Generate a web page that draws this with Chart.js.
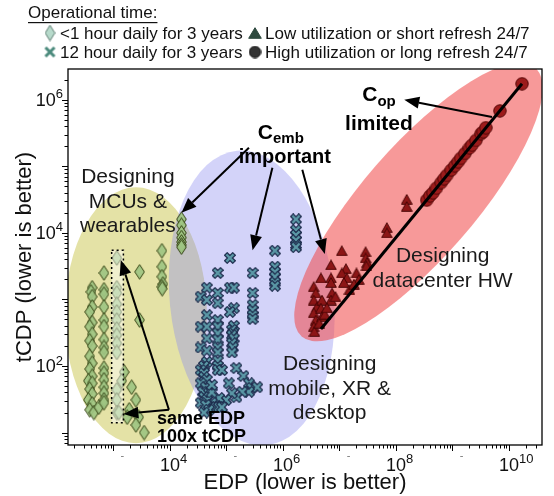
<!DOCTYPE html>
<html>
<head>
<meta charset="utf-8">
<script src="https://cdn.jsdelivr.net/npm/chart.js@4.4.1/dist/chart.umd.min.js"></script>
<style>
  html, body { margin: 0; padding: 0; background: #fff; }
  #c { display: block; }
</style>
</head>
<body>
<canvas id="c" width="554" height="496"></canvas>
<script>
// values (log-log axes)
const xTickExponents = [4, 6, 8, 10];
const yTickExponents = [2, 4, 6];

const legendLabels = [
    '<1 hour daily for 3 years',
    '12 hour daily for 3 years',
    'Low utilization or short refresh 24/7',
    'High utilization or long refresh 24/7'
];

// <1 hour daily for 3 years (diamonds)
const shortUse = [
    [1.6e4, 1.6e4], [1.6e4, 1.3e4], [1.6e4, 1.0e4], [1.6e4, 8.5e3], [1.6e4, 7.3e3], [1.6e4, 6.6e3], [1.6e4, 6.1e3],
    [7.2e3, 5.4e3], [7.2e3, 3.1e3], [7.2e3, 2.2e3], [7.5e3, 1.7e3], [7.2e3, 1.55e3], [7.3e3, 1.45e3],
    [2.9e3, 2.6e3], [2.9e3, 4.9e2],
    [1.15e3, 4.2e3], [1.15e3, 1.5e3], [1.15e3, 1.25e3], [1.15e3, 8.5e2], [1.15e3, 6.5e2], [1.15e3, 4.9e2],
    [1.15e3, 3.6e2], [1.15e3, 2.9e2], [1.15e3, 2.2e2], [1.15e3, 1.6e2], [1.15e3, 44], [1.15e3, 31], [1.15e3, 20],
    [680, 2.5e3], [680, 1.4e3], [680, 1.2e3], [680, 7.7e2], [680, 4.9e2], [680, 3.9e2], [680, 2.5e2], [680, 1.9e2],
    [680, 1.6e2], [680, 93], [680, 78], [680, 62], [680, 48], [680, 39], [680, 31],
    [420, 1.5e3], [400, 1.3e3], [420, 1.1e3], [420, 7.7e2], [380, 6.5e2], [420, 4.5e2], [380, 3.9e2], [420, 3.0e2],
    [380, 2.4e2], [420, 2.0e2], [380, 1.4e2], [420, 1.1e2], [380, 90], [420, 70], [360, 60], [420, 55], [380, 45],
    [420, 38], [360, 31], [420, 27], [380, 22],
    [1.55e3, 81], [2.1e3, 48], [2.5e3, 31], [1.9e3, 22], [2.8e3, 17], [3.5e3, 10], [2.5e3, 13], [1.75e3, 17],
    [1.25e3, 20], [450, 20], [550, 24], [680, 28], [1.4e3, 60]
];

// 12 hour daily for 3 years (crosses)
const halfDayUse = [
    [1.7e6, 1.6e4], [1.7e6, 1.1e4], [1.7e6, 9.3e3], [1.7e6, 7.8e3], [1.7e6, 6.6e3], [1.7e6, 6.1e3],
    [7.2e5, 5.4e3], [7.2e5, 3.1e3], [7.2e5, 2.6e3], [7.2e5, 2.2e3], [7.2e5, 1.8e3], [7.2e5, 1.6e3],
    [2.9e5, 2.5e3], [2.9e5, 1.25e3], [2.9e5, 8.3e2], [2.9e5, 6.9e2], [2.9e5, 5.8e2], [2.9e5, 5.1e2],
    [1.15e5, 4.2e3], [7.0e4, 2.5e3], [1.15e5, 1.5e3], [1.35e5, 1.5e3],
    [1.35e5, 7.4e2], [1.15e5, 6.5e2], [1.35e5, 4.0e2],
    [1.25e5, 3.5e2], [1.3e5, 3.1e2], [1.25e5, 2.9e2], [1.35e5, 2.6e2], [1.25e5, 2.2e2], [1.3e5, 1.9e2], [1.25e5, 1.6e2],
    [7.0e4, 1.25e3], [7.0e4, 8.8e2],
    [7.0e4, 4.9e2], [7.0e4, 3.9e2], [7.0e4, 3.1e2], [7.0e4, 2.5e2], [7.0e4, 1.9e2], [7.0e4, 1.6e2], [7.0e4, 1.2e2],
    [7.0e4, 1.0e2], [7.0e4, 87],
    [4.5e4, 1.5e3], [3.5e4, 1.1e3], [4.5e4, 9.8e2], [4.5e4, 5.8e2], [3.5e4, 3.9e2], [4.5e4, 3.9e2], [4.5e4, 2.6e2],
    [3.5e4, 1.9e2], [4.5e4, 1.7e2], [4.5e4, 1.15e2], [4.0e4, 1.0e2], [3.5e4, 87], [4.0e4, 78],
    [8.3e4, 87], [1.1e5, 55], [1.5e5, 93], [2.0e5, 71], [2.5e5, 55], [2.8e5, 47], [3.5e5, 48], [2.5e5, 41],
    [1.9e5, 41], [1.5e5, 34], [1.25e5, 39], [9.8e4, 31], [7.4e4, 33], [5.5e4, 28], [4.5e4, 24], [6.5e4, 24],
    [7.4e4, 24], [8.3e4, 24],
    [4.0e4, 68], [4.5e4, 62], [3.5e4, 55], [4.3e4, 48], [3.8e4, 41], [4.9e4, 39], [4.0e4, 34], [4.5e4, 31],
    [3.5e4, 28], [4.3e4, 26], [4.9e4, 22], [4.0e4, 20], [5.5e4, 40], [5.5e4, 52]
];

// low utilization or short refresh 24/7 (triangles)
const lowUtil = [
    [1.55e8, 3.2e4], [1.55e8, 2.5e4],
    [6.9e7, 1.2e4], [6.9e7, 1.0e4],
    [2.9e7, 5.2e3], [2.9e7, 4.2e3], [3.1e7, 3.6e3], [3.0e7, 3.2e3],
    [1.1e7, 5.4e3], [7.1e6, 3.3e3], [4.7e6, 2.1e3],
    [1.3e7, 2.9e3], [1.1e7, 2.5e3], [1.35e7, 2.1e3], [1.2e7, 1.8e3], [1.5e7, 1.4e3],
    [2.0e7, 2.5e3], [2.2e7, 2.0e3], [1.8e7, 1.7e3],
    [7.1e6, 2.1e3], [7.1e6, 1.8e3], [7.4e6, 1.25e3], [7.1e6, 9.8e2], [8.5e6, 1.1e3],
    [3.5e6, 1.55e3], [3.8e6, 1.25e3], [3.5e6, 9.8e2], [4.0e6, 7.7e2], [3.5e6, 6.3e2], [3.8e6, 4.9e2],
    [3.5e6, 3.9e2], [3.6e6, 3.3e2],
    [4.9e6, 9.8e2], [4.7e6, 7.4e2], [4.9e6, 5.5e2], [4.4e6, 4.4e2], [5.5e6, 6.0e2], [6.0e6, 7.5e2]
];

// high utilization or long refresh 24/7 (circles)
const highUtil = [
    [3.5e8, 3.1e4], [4.0e8, 3.6e4], [4.5e8, 4.0e4], [5.2e8, 4.7e4], [6.3e8, 5.7e4], [7.1e8, 6.5e4],
    [7.9e8, 7.3e4], [9.5e8, 8.8e4], [1.1e9, 1.02e5], [1.26e9, 1.17e5], [1.4e9, 1.32e5], [1.66e9, 1.56e5],
    [2.0e9, 1.89e5], [2.2e9, 2.08e5], [2.6e9, 2.45e5], [3.2e9, 3.1e5], [3.5e9, 3.3e5], [3.9e9, 3.8e5],
    [6.9e9, 6.8e5], [1.7e10, 1.74e6]
];

const datacenterFit = [[4.7e6, 3.6e2], [1.7e10, 1.74e6]];

// annotation layer (data coordinates)
const regions = [
    { at: [2.5e3, 5.8e2], rx: 71, ry: 128, rot: 0, color: 'rgb(228,226,166)' },
    { at: [2.8e5, 1.05e3], rx: 82, ry: 148, rot: -0.1, color: 'rgba(140,140,240,0.38)' },
    { at: [2.5e8, 2.9e4], rx: 178, ry: 56, rot: -0.855, color: 'rgba(240,70,70,0.55)' }
];
const sameEdpBox = { x: [930, 1500], y: [14, 5.5e3] };
const arrows = [
    { from: [2.5e5, 1.9e5], to: [1.6e4, 2.0e4] },
    { from: [6.5e5, 9.5e4], to: [2.9e5, 5.5e3] },
    { from: [2.2e6, 8.9e4], to: [5.5e6, 4.8e3] },
    { from: [5.0e9, 5.5e5], to: [1.4e8, 1.0e6] },
    { from: [9.6e3, 22], to: [1.35e3, 3.9e3] },
    { from: [9.6e3, 22], to: [1.5e3, 19] }
];

const FONT = '"Liberation Sans", Arial, Helvetica, sans-serif';
const toPts = arr => arr.map(([x, y]) => ({ x, y }));

function marker(w, h, paint) {
    const c = document.createElement('canvas');
    c.width = w;
    c.height = h;
    paint(c.getContext('2d'));
    return c;
}

function diamond(fill, stroke, w, h) {
    return marker(w, h, g => {
        g.beginPath();
        g.moveTo(w / 2, 0.7); g.lineTo(w - 0.7, h / 2); g.lineTo(w / 2, h - 0.7); g.lineTo(0.7, h / 2);
        g.closePath();
        g.fillStyle = fill; g.fill();
        g.strokeStyle = stroke; g.lineWidth = 1; g.stroke();
    });
}

function cross(fill, stroke, size) {
    return marker(size, size, g => {
        const p = size * 0.27, q = size - p;
        g.lineCap = 'square';
        g.beginPath();
        g.moveTo(p, p); g.lineTo(q, q); g.moveTo(q, p); g.lineTo(p, q);
        if (stroke) { g.strokeStyle = stroke; g.lineWidth = size * 0.4; g.stroke(); }
        g.strokeStyle = fill; g.lineWidth = size * 0.2; g.stroke();
    });
}

function triangle(fill, stroke, w, h) {
    return marker(w, h, g => {
        g.beginPath();
        g.moveTo(w / 2, 0.7); g.lineTo(w - 0.7, h - 0.7); g.lineTo(0.7, h - 0.7);
        g.closePath();
        g.fillStyle = fill; g.fill();
        g.strokeStyle = stroke; g.lineWidth = 1; g.stroke();
    });
}

function circle(fill, stroke, d) {
    return marker(d, d, g => {
        g.beginPath();
        g.arc(d / 2, d / 2, d / 2 - 0.8, 0, Math.PI * 2);
        g.fillStyle = fill; g.fill();
        g.strokeStyle = stroke; g.lineWidth = 1; g.stroke();
    });
}

const diamondImg = diamond('rgba(158,196,130,0.92)', '#364515', 11, 16);
const crossImg = cross('#5b98a6', '#1e2d4e', 12);
const triangleImg = triangle('#8c1616', '#4a0606', 12, 11);
const circleImg = circle('#9b1b1b', '#540808', 14);

const legendMarks = [
    diamond('#b7dacb', '#5d7d72', 11, 17),
    cross('#4b8a7c', null, 15),
    triangle('#2e4a3f', '#2e4a3f', 14, 12),
    circle('#333', '#111', 13)
];

function decadeTicks(scale) {
    const out = [];
    const lo = Math.floor(Math.log10(scale.min)), hi = Math.ceil(Math.log10(scale.max));
    for (let e = lo; e <= hi; e++) {
        for (let m = 1; m <= 9; m++) {
            const v = m * Math.pow(10, e);
            if (v >= scale.min && v <= scale.max) out.push({ v, major: m === 1, e });
        }
    }
    return out;
}

function drawRuns(g, cx, cy, runs) {
    let w = 0;
    runs.forEach(r => { g.font = r[1]; w += g.measureText(r[0]).width; });
    let xx = cx - w / 2;
    runs.forEach(r => {
        g.font = r[1];
        g.fillText(r[0], xx, cy + (r[2] || 0));
        xx += g.measureText(r[0]).width;
    });
}

function arrow(g, x1, y1, x2, y2) {
    const ang = Math.atan2(y2 - y1, x2 - x1), len = 15, half = 6;
    const bx = x2 - len * Math.cos(ang), by = y2 - len * Math.sin(ang);
    g.beginPath();
    g.moveTo(x1, y1); g.lineTo(bx, by);
    g.stroke();
    g.beginPath();
    g.moveTo(x2, y2);
    g.lineTo(bx + half * Math.sin(ang), by - half * Math.cos(ang));
    g.lineTo(bx - half * Math.sin(ang), by + half * Math.cos(ang));
    g.closePath();
    g.fill();
}

const ellipses = {
    id: 'ellipses',
    beforeDatasetsDraw(chart) {
        const { ctx, chartArea: a, scales: { x, y } } = chart;
        ctx.save();
        ctx.beginPath();
        ctx.rect(a.left, a.top, a.right - a.left, a.bottom - a.top);
        ctx.clip();
        regions.forEach(r => {
            ctx.beginPath();
            ctx.ellipse(x.getPixelForValue(r.at[0]), y.getPixelForValue(r.at[1]), r.rx, r.ry, r.rot, 0, Math.PI * 2);
            ctx.fillStyle = r.color;
            ctx.fill();
        });
        ctx.restore();
    }
};

const overlays = {
    id: 'overlays',
    afterDatasetsDraw(chart) {
        const { ctx, scales: { x, y } } = chart;
        const px = v => x.getPixelForValue(v), py = v => y.getPixelForValue(v);
        ctx.save();

        // dotted "same EDP" box
        const bx = px(sameEdpBox.x[0]), bw = px(sameEdpBox.x[1]) - bx;
        const by = py(sameEdpBox.y[1]), bh = py(sameEdpBox.y[0]) - by;
        ctx.fillStyle = 'rgba(255,255,255,0.45)';
        ctx.fillRect(bx, by, bw, bh);
        ctx.setLineDash([2, 3]);
        ctx.strokeStyle = '#000';
        ctx.lineWidth = 1.5;
        ctx.strokeRect(bx, by, bw, bh);
        ctx.setLineDash([]);

        ctx.lineWidth = 2;
        ctx.fillStyle = '#000';
        arrows.forEach(ar => arrow(ctx, px(ar.from[0]), py(ar.from[1]), px(ar.to[0]), py(ar.to[1])));

        ctx.textBaseline = 'middle';
        ctx.textAlign = 'center';
        ctx.fillStyle = '#1a1a1a';
        ctx.font = '21px ' + FONT;
        const block = (lines, cx, cy, gap) => lines.forEach((t, i) =>
            ctx.fillText(t, cx, cy + (i - (lines.length - 1) / 2) * gap));
        block(['Designing', 'MCUs &', 'wearables'], px(1.8e3), py(2.9e4), 24.5);
        block(['Designing', 'mobile, XR &', 'desktop'], px(6.7e6), py(45), 24.5);
        block(['Designing', 'datacenter HW'], px(6.7e8), py(2.9e3), 25);

        ctx.textAlign = 'left';
        ctx.fillStyle = '#000';
        const bold = s => 'bold ' + s + 'px ' + FONT;
        let cx = px(1.08e6), cy = py(2.1e5);
        drawRuns(ctx, cx - 4, cy - 12, [['C', bold(21)], ['emb', bold(15), 6]]);
        drawRuns(ctx, cx, cy + 13, [['important', bold(20)]]);
        cx = px(5.0e7); cy = py(7.6e5);
        drawRuns(ctx, cx, cy - 13, [['C', bold(21)], ['op', bold(15), 7]]);
        drawRuns(ctx, cx, cy + 16, [['limited', bold(21)]]);

        ctx.font = bold(18);
        ctx.fillText('same EDP', px(5.9e3), py(11.7) - 9);
        ctx.fillText('100x tCDP', px(5.9e3), py(11.7) + 9);
        ctx.restore();
    }
};

const frame = {
    id: 'frame',
    afterDraw(chart) {
        const { ctx, chartArea: a, scales: { x, y } } = chart;
        ctx.save();
        ctx.strokeStyle = '#000';
        ctx.lineWidth = 1.3;
        ctx.strokeRect(a.left, a.top, a.right - a.left, a.bottom - a.top);

        ctx.lineWidth = 1;
        ctx.beginPath();
        decadeTicks(x).forEach(t => {
            const p = Math.round(x.getPixelForValue(t.v)) + 0.5;
            ctx.moveTo(p, a.bottom); ctx.lineTo(p, a.bottom + (t.major ? 6 : 3.5));
        });
        decadeTicks(y).forEach(t => {
            const p = Math.round(y.getPixelForValue(t.v)) + 0.5;
            ctx.moveTo(a.left, p); ctx.lineTo(a.left - (t.major ? 6 : 3.5), p);
        });
        ctx.stroke();

        // tick labels 10^n
        ctx.fillStyle = '#111';
        ctx.textBaseline = 'middle';
        const base = '18px ' + FONT, sup = '13px ' + FONT;
        xTickExponents.forEach(e => {
            const p = x.getPixelForValue(Math.pow(10, e));
            ctx.font = base;
            ctx.textAlign = 'center';
            ctx.fillText('10', p, a.bottom + 21);
            const w = ctx.measureText('10').width;
            ctx.font = sup;
            ctx.textAlign = 'left';
            ctx.fillText(String(e), p + w / 2, a.bottom + 14);
        });
        // faint marks at the odd decades
        ctx.font = '11px ' + FONT;
        ctx.fillStyle = '#777';
        ctx.textAlign = 'center';
        decadeTicks(x).filter(t => t.major && t.e % 2 === 1).forEach(t => {
            ctx.fillText('-', x.getPixelForValue(t.v) + 9, a.bottom + 11);
        });
        ctx.fillStyle = '#111';
        yTickExponents.forEach(e => {
            const p = y.getPixelForValue(Math.pow(10, e));
            ctx.font = sup;
            ctx.textAlign = 'right';
            ctx.fillText(String(e), a.left - 5, p - 5);
            const sw = ctx.measureText(String(e)).width;
            ctx.font = base;
            ctx.fillText('10', a.left - 5 - sw, p + 1);
        });

        // axis titles
        ctx.font = '22px ' + FONT;
        ctx.textAlign = 'center';
        ctx.fillText('EDP (lower is better)', (a.left + a.right) / 2, 483);
        ctx.save();
        ctx.translate(25, (a.top + a.bottom) / 2);
        ctx.rotate(-Math.PI / 2);
        ctx.fillText('tCDP (lower is better)', 0, 0);
        ctx.restore();

        // legend
        ctx.font = '17px ' + FONT;
        ctx.textAlign = 'left';
        ctx.fillText('Operational time:', 28, 13);
        const tw = ctx.measureText('Operational time:').width;
        ctx.fillRect(28, 22, tw, 1.2);
        const slots = [[50, 33], [50, 52], [255, 33], [255, 52]];
        legendMarks.forEach((m, i) => {
            const [mx, my] = slots[i];
            ctx.drawImage(m, mx - m.width / 2, my - m.height / 2);
            ctx.fillText(legendLabels[i], mx + 10, my + 1);
        });
        ctx.restore();
    }
};

new Chart(document.getElementById('c'), {
    type: 'scatter',
    data: {
        datasets: [
            {
                type: 'line',
                label: 'datacenter trend',
                data: toPts(datacenterFit),
                borderColor: '#000',
                borderWidth: 3,
                pointRadius: 0,
                order: 0
            },
            { label: legendLabels[3], data: toPts(highUtil), pointStyle: circleImg, order: 1 },
            { label: legendLabels[2], data: toPts(lowUtil), pointStyle: triangleImg, order: 2 },
            { label: legendLabels[1], data: toPts(halfDayUse), pointStyle: crossImg, order: 3 },
            { label: legendLabels[0], data: toPts(shortUse), pointStyle: diamondImg, order: 4 }
        ]
    },
    options: {
        responsive: false,
        animation: false,
        layout: { padding: { left: 68, top: 69, right: 12, bottom: 51 } },
        plugins: {
            legend: { display: false },
            tooltip: { enabled: false }
        },
        scales: {
            x: { type: 'logarithmic', display: false, min: 157, max: 3.84e10 },
            y: { type: 'logarithmic', display: false, min: 6.5, max: 2.9e6 }
        }
    },
    plugins: [ellipses, overlays, frame]
});
</script>
</body>
</html>
